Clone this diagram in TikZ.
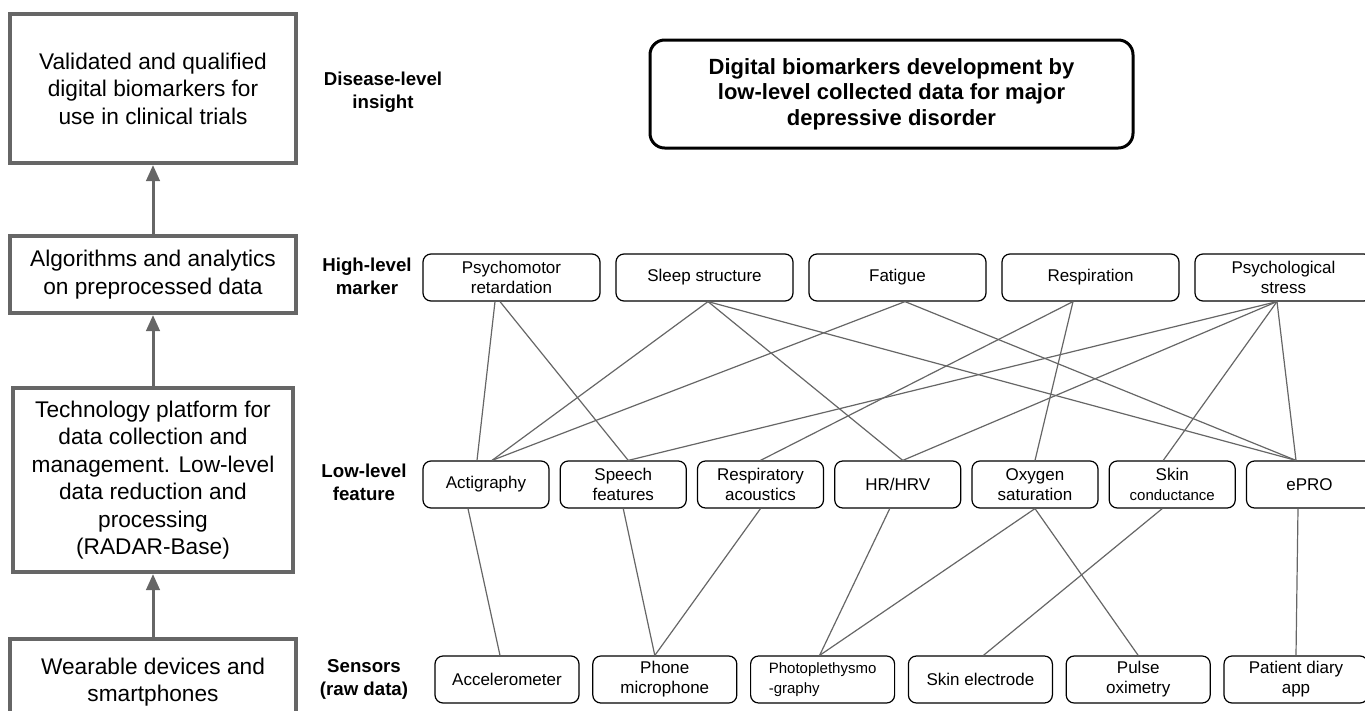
\documentclass[tikz,border=0pt]{standalone}
\usepackage{fontspec}
\setmainfont{Liberation Sans}
\usepackage{tikz}
\usetikzlibrary{arrows.meta,calc}
\definecolor{framegray}{HTML}{666666}
\definecolor{linkgray}{HTML}{666666}
\tikzset{>=stealth}

\begin{document}
\begin{tikzpicture}[x=0.75pt,y=-0.75pt,
	stage/.style={draw=framegray,line width=3pt,align=center,inner sep=0pt,font=\fontsize{17}{20.6}\selectfont},
	lvl/.style={align=center,font=\fontsize{14}{17.25}\selectfont\bfseries},
	highbox/.style={draw,rounded corners=6pt,line width=0.9pt,minimum width=132.75pt,minimum height=35.25pt,align=center,inner sep=1pt,font=\fontsize{12.75}{15}\selectfont},
	lowbox/.style={highbox,minimum width=94.5pt},
	sensbox/.style={highbox,minimum width=108pt},
	link/.style={draw=linkgray,line width=0.9pt},
	uparrow/.style={draw=framegray,line width=2.25pt,-{Triangle[length=12pt,width=10pt]}}]
					\clip (0,0) rectangle (1365,711);
					
					%Stages
					
					\node[stage,minimum width=214.5pt,minimum height=111.75pt] (valid) at (153,88.5) {Validated and qualified\\digital biomarkers for\\use in clinical trials};
					\node[stage,minimum width=214.5pt,minimum height=57.75pt] (algo) at (153,274.5) {Algorithms and analytics\\on preprocessed data};
					\node[stage,minimum width=210pt,minimum height=138pt] (platform) at (153,480) {Technology platform for\\data collection and\\management. Low-level\\data reduction and\\processing\\(RADAR-Base)};
					\node[stage,minimum width=214.5pt,minimum height=64.5pt] (wear) at (153,682) {Wearable devices and\\smartphones};
					\draw[uparrow] (algo.north) -- (valid.south);
					\draw[uparrow] (platform.north) -- (algo.south);
					\draw[uparrow] (wear.north) -- (platform.south);
					
					%Levels
					
					\node[lvl] (disease) at (383,92) {Disease-level\\insight};
					\node[lvl] (high) at (367,276) {High-level\\marker};
					\node[lvl] (low) at (364,482) {Low-level\\feature};
					\node[lvl] (sens) at (364,679) {Sensors\\(raw data)};
					
					\node[draw,line width=2.25pt,rounded corners=11pt,minimum width=362.25pt,minimum height=81pt,align=center,font=\fontsize{16.5}{19}\selectfont\bfseries] (title) at (891.5,94) {Digital biomarkers development by\\low-level collected data for major\\depressive disorder};
					
					%High-level markers
					
					\node[highbox] (psy) at (511.5,277.5) {Psychomotor\\retardation};
					\node[highbox] (sleep) at (704.5,277.5) {Sleep structure};
					\node[highbox] (fat) at (897.5,277.5) {Fatigue};
					\node[highbox] (resp) at (1090.5,277.5) {Respiration};
					\node[highbox] (stress) at (1283.5,277.5) {Psychological\\stress};
					
					%Low-level features
					
					\node[lowbox] (acti) at (486,484.5) {Actigraphy};
					\node[lowbox] (speech) at (623.25,484.5) {Speech\\features};
					\node[lowbox] (respac) at (760.5,484.5) {Respiratory\\acoustics};
					\node[lowbox] (hr) at (897.75,484.5) {HR/HRV};
					\node[lowbox] (oxy) at (1035,484.5) {Oxygen\\saturation};
					\node[lowbox] (skin) at (1172.25,484.5) {Skin\\{\fontsize{11.25}{15}\selectfont conductance}};
					\node[lowbox] (epro) at (1309.5,484.5) {ePRO};
					
					%Sensors
					
					\node[sensbox] (accel) at (507,679.5) {Accelerometer};
					\node[sensbox] (phone) at (664.8,679.5) {Phone\\microphone};
					\node[sensbox,align=left,font=\fontsize{11.25}{15}\selectfont] (ppg) at (822.6,679.5) {Photoplethysmo\\-graphy};
					\node[sensbox] (skinel) at (980.4,679.5) {Skin electrode};
					\node[sensbox] (pulse) at (1138.2,679.5) {Pulse\\oximetry};
					\node[sensbox] (diary) at (1296,679.5) {Patient diary\\app};
					
					%Links high -> low
					
					\draw[link] ($(psy.south)+(-16.5,0)$) -- ($(acti.north)+(-9,0)$);
					\draw[link] ($(psy.south)+(-11.5,0)$) -- ($(speech.north)+(5,0)$);
					\draw[link] ($(sleep.south)+(3.5,0)$) -- ($(acti.north)+(6,0)$);
					\draw[link] ($(sleep.south)+(3.5,0)$) -- ($(hr.north)+(5,0)$);
					\draw[link] ($(sleep.south)+(3.5,0)$) -- ($(epro.north)+(-13.5,0)$);
					\draw[link] ($(fat.south)+(7.5,0)$) -- ($(acti.north)+(6,0)$);
					\draw[link] ($(fat.south)+(7.5,0)$) -- ($(epro.north)+(-13.5,0)$);
					\draw[link] ($(resp.south)+(-17.5,0)$) -- (respac.north);
					\draw[link] ($(resp.south)+(-17.5,0)$) -- (oxy.north);
					\draw[link] ($(stress.south)+(-6.5,0)$) -- ($(speech.north)+(5,0)$);
					\draw[link] ($(stress.south)+(-6.5,0)$) -- ($(hr.north)+(5,0)$);
					\draw[link] ($(stress.south)+(-6.5,0)$) -- ($(skin.north)+(-9,0)$);
					\draw[link] ($(stress.south)+(-6.5,0)$) -- ($(epro.north)+(-13.5,0)$);
					
					%Links low -> sensors
					
					\draw[link] ($(acti.south)+(-18,0)$) -- ($(accel.north)+(-7,0)$);
					\draw[link] (speech.south) -- ($(phone.north)+(-10,0)$);
					\draw[link] (respac.south) -- ($(phone.north)+(-10,0)$);
					\draw[link] ($(hr.south)+(-8,0)$) -- ($(ppg.north)+(-3,0)$);
					\draw[link] (oxy.south) -- ($(ppg.north)+(-3,0)$);
					\draw[link] (oxy.south) -- (pulse.north);
					\draw[link] ($(skin.south)+(-10,0)$) -- ($(skinel.north)+(3,0)$);
					\draw[link] ($(epro.south)+(-11.5,0)$) -- (diary.north);
				\end{tikzpicture}
\end{document}
